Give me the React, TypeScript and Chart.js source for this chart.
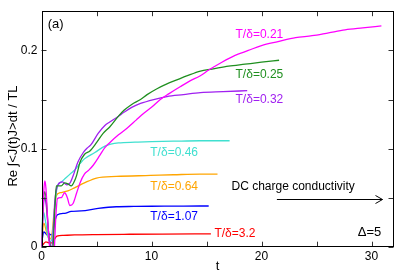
import React, { useEffect, useRef } from "react";
import { Chart, registerables } from "chart.js";

Chart.register(...registerables);

// ---- Data ----
const t021 = [0, 0.1, 0.2, 0.3, 0.4, 0.55, 0.7, 0.85, 1.0, 1.15, 1.3, 1.45, 1.8, 2.1, 2.35, 2.57, 2.87, 3.2, 3.5, 3.9, 4.3, 4.7, 5.3, 5.76, 6.2, 7.0, 7.8, 8.6, 9.3, 10.0, 10.8, 11.6, 12.6, 13.5, 14.4, 15.2, 16.4, 17.6, 18.8, 20, 21.5, 23.1, 24.6, 26.1, 27.6, 29.2, 30.9];
const v021 = [0, 0.025, 0.055, 0.067, 0.06, 0.03, 0.004, -0.01, -0.012, -0.005, 0.03, 0.049, 0.05, 0.055, 0.05, 0.042, 0.044, 0.055, 0.065, 0.074, 0.078, 0.083, 0.093, 0.101, 0.106, 0.114, 0.121, 0.129, 0.136, 0.142, 0.15, 0.156, 0.163, 0.169, 0.174, 0.18, 0.188, 0.195, 0.2, 0.205, 0.209, 0.213, 0.215, 0.218, 0.221, 0.223, 0.225];

const t025 = [0, 0.1, 0.2, 0.3, 0.45, 0.6, 0.75, 0.9, 1.05, 1.2, 1.35, 1.8, 2.1, 2.4, 2.7, 3.0, 3.2, 3.5, 3.9, 4.4, 5.0, 5.6, 6.2, 7.0, 7.5, 8.2, 9.0, 9.6, 10.5, 11.4, 12.3, 13.2, 14.45, 15.5, 17.0, 18.5, 20, 21.6];
const v025 = [0, 0.03, 0.05, 0.056, 0.045, 0.02, 0.003, -0.005, 0.0, 0.035, 0.062, 0.062, 0.065, 0.064, 0.062, 0.067, 0.073, 0.086, 0.094, 0.0976, 0.106, 0.1155, 0.122, 0.133, 0.139, 0.145, 0.15, 0.155, 0.161, 0.166, 0.17, 0.174, 0.179, 0.181, 0.184, 0.186, 0.188, 0.19];

const t032 = [0, 0.1, 0.2, 0.3, 0.45, 0.6, 0.75, 0.9, 1.05, 1.2, 1.5, 1.9, 2.3, 2.6, 2.9, 3.3, 3.8, 4.2, 4.5, 5.15, 5.76, 6.2, 7.0, 7.5, 8.2, 9.0, 10.2, 11.4, 12.9, 14.45, 16.5, 18.7];
const v032 = [0, 0.025, 0.045, 0.05, 0.04, 0.02, 0.005, 0.0, 0.01, 0.045, 0.063, 0.066, 0.063, 0.065, 0.073, 0.086, 0.096, 0.101, 0.104, 0.1155, 0.1236, 0.127, 0.133, 0.137, 0.142, 0.146, 0.15, 0.153, 0.155, 0.157, 0.158, 0.159];

const t046 = [0, 0.1, 0.2, 0.3, 0.45, 0.6, 0.8, 1.0, 1.2, 1.45, 1.8, 2.2, 2.7, 3.0, 3.5, 3.9, 4.85, 5.76, 7.0, 8.5, 10, 12, 14.4, 17.1];
const v046 = [0, 0.03, 0.035, 0.03, 0.02, 0.01, 0.005, 0.012, 0.04, 0.062, 0.066, 0.07, 0.075, 0.078, 0.0846, 0.0895, 0.096, 0.1025, 0.1058, 0.1065, 0.107, 0.1075, 0.108, 0.108];

const t064 = [0, 0.1, 0.2, 0.3, 0.45, 0.6, 0.8, 0.95, 1.1, 1.35, 1.7, 2.4, 3.0, 3.9, 5.0, 6.8, 9.9, 12, 14.4, 16.0];
const v064 = [0, 0.015, 0.024, 0.022, 0.015, 0.01, 0.008, 0.012, 0.03, 0.052, 0.055, 0.057, 0.06, 0.065, 0.07, 0.0716, 0.0726, 0.0733, 0.074, 0.074];

const t107 = [0, 0.1, 0.2, 0.35, 0.5, 0.7, 0.9, 1.05, 1.2, 1.45, 2.1, 2.7, 3.6, 5.15, 6.8, 8.4, 10, 12, 14.4, 15.2];
const v107 = [0, 0.01, 0.015, 0.014, 0.012, 0.013, 0.012, 0.015, 0.025, 0.0326, 0.034, 0.036, 0.0365, 0.039, 0.0407, 0.041, 0.0412, 0.0413, 0.0415, 0.0415];

const t32 = [0, 0.2, 0.4, 0.7, 1.0, 1.2, 1.4, 2, 3, 5, 8, 11, 15.4];
const v32 = [0, 0.003, 0.005, 0.004, 0.004, 0.008, 0.0107, 0.0115, 0.012, 0.0124, 0.0127, 0.0129, 0.013];

const seriesNames = ["T/δ=0.21", "T/δ=0.25", "T/δ=0.32", "T/δ=0.46", "T/δ=0.64", "T/δ=1.07", "T/δ=3.2"];
const seriesColors = ["#ff00ff", "#1f8f1f", "#a020f0", "#40e0d0", "#ffa500", "#0000ff", "#ff0000"];
const seriesT = [t021, t025, t032, t046, t064, t107, t32];
const seriesV = [v021, v025, v032, v046, v064, v107, v32];

// series label positions (data coords: left edge t, centre v)
const labelT = [17.64, 17.64, 17.64, 9.89, 9.89, 9.89, 15.72];
const labelV = [0.2163, 0.1753, 0.150, 0.0963, 0.0612, 0.0302, 0.0134];

// other annotations
const noteTexts = ["DC charge conductivity", "Δ=5", "(a)"];
const noteT = [17.27, 28.75, 0.57];
const noteV = [0.0612, 0.0146, 0.227];
const noteSizes = [12, 13, 13];
const arrowT = [21.4, 31.0];
const arrowV = 0.049;

const xMajor = [0, 10, 20, 30];
const xMinor = [5, 15, 25];
const yMajor = [0, 0.1, 0.2];
const yMinor = [0.05, 0.15];

const FONT = '"Liberation Sans", Arial, Helvetica, sans-serif';

const overlay = {
  id: "overlay",
  afterDatasetsDraw(chart: any) {
    const { ctx, chartArea, scales } = chart;
    const { left, right, top, bottom } = chartArea;
    const x = scales.x;
    const y = scales.y;
    ctx.save();
    // ticks
    ctx.strokeStyle = "#333";
    ctx.lineWidth = 1;
    const tl = 5;
    ctx.beginPath();
    [...xMajor, ...xMinor].forEach((v) => {
      const px = Math.round(x.getPixelForValue(v)) + 0.5;
      ctx.moveTo(px, bottom);
      ctx.lineTo(px, bottom - tl);
      ctx.moveTo(px, top);
      ctx.lineTo(px, top + tl);
    });
    [...yMajor, ...yMinor].forEach((v) => {
      const py = Math.round(y.getPixelForValue(v)) + 0.5;
      ctx.moveTo(left, py);
      ctx.lineTo(left + tl, py);
      ctx.moveTo(right, py);
      ctx.lineTo(right - tl, py);
    });
    ctx.stroke();
    // frame
    ctx.strokeStyle = "#000";
    ctx.strokeRect(Math.round(left) + 0.5, Math.round(top) + 0.5, Math.round(right - left) - 1, Math.round(bottom - top) - 1);

    // labels
    ctx.font = `12px ${FONT}`;
    ctx.textAlign = "left";
    ctx.textBaseline = "middle";
    seriesNames.forEach((n, i) => {
      ctx.fillStyle = seriesColors[i];
      ctx.fillText(n, x.getPixelForValue(labelT[i]), y.getPixelForValue(labelV[i]));
    });
    ctx.fillStyle = "#000";
    noteTexts.forEach((n, i) => {
      ctx.font = `${noteSizes[i]}px ${FONT}`;
      ctx.fillText(n, x.getPixelForValue(noteT[i]), y.getPixelForValue(noteV[i]));
    });
    // arrow
    const ax0 = x.getPixelForValue(arrowT[0]);
    const ax1 = x.getPixelForValue(arrowT[1]);
    const ay = Math.round(y.getPixelForValue(arrowV)) + 0.5;
    ctx.strokeStyle = "#000";
    ctx.beginPath();
    ctx.moveTo(ax0, ay);
    ctx.lineTo(ax1, ay);
    ctx.moveTo(ax1 - 7, ay - 4);
    ctx.lineTo(ax1, ay);
    ctx.lineTo(ax1 - 7, ay + 4);
    ctx.stroke();

    // y title
    ctx.save();
    ctx.translate(13, 136);
    ctx.rotate(-Math.PI / 2);
    ctx.textAlign = "center";
    ctx.font = `13px ${FONT}`;
    ctx.fillText("Re ∫<J(t)J>dt / TL", 0, 0);
    ctx.restore();
    ctx.restore();
  },
};

export default function App() {
  const ref = useRef<HTMLCanvasElement | null>(null);
  useEffect(() => {
    if (!ref.current) return;
    const chart = new Chart(ref.current, {
      type: "line",
      data: {
        datasets: seriesNames.map((n, i) => ({
          label: n,
          data: seriesT[i].map((t, k) => ({ x: t, y: seriesV[i][k] })),
          borderColor: seriesColors[i],
          borderWidth: 1.3,
          pointRadius: 0,
          fill: false,
          cubicInterpolationMode: "monotone" as const,
        })),
      },
      options: {
        animation: false,
        responsive: false,
        devicePixelRatio: 1,
        layout: { padding: { top: 1, right: 1.5, left: 0, bottom: 0 } },
        plugins: { legend: { display: false }, tooltip: { enabled: false } },
        scales: {
          x: {
            type: "linear",
            min: 0,
            max: 32,
            grid: { display: false, drawTicks: false },
            border: { display: false },
            afterBuildTicks: (s: any) => {
              s.ticks = xMajor.map((v) => ({ value: v }));
            },
            afterFit: (s: any) => {
              s.height = 27.3;
            },
            ticks: {
              padding: 3,
              color: "#000",
              font: { family: FONT, size: 12 },
              maxRotation: 0,
              callback: (v: any) => String(v),
            },
            title: {
              display: true,
              text: "t",
              color: "#000",
              font: { family: FONT, size: 13 },
              padding: { top: 0, bottom: 0 },
            },
          },
          y: {
            type: "linear",
            min: 0,
            max: 0.24,
            grid: { display: false, drawTicks: false },
            border: { display: false },
            afterBuildTicks: (s: any) => {
              s.ticks = yMajor.map((v) => ({ value: v }));
            },
            afterFit: (s: any) => {
              s.width = 41.5;
            },
            ticks: {
              padding: 4,
              color: "#000",
              font: { family: FONT, size: 12 },
              callback: (v: any) => String(Math.round(v * 100) / 100),
            },
          },
        },
      },
      plugins: [overlay],
    });
    return () => chart.destroy();
  }, []);
  return (
    <div style={{ position: "fixed", left: 0, top: 0, width: 395, height: 274, background: "#fff" }}>
      <canvas ref={ref} width={395} height={274} style={{ width: 395, height: 274, display: "block" }} />
    </div>
  );
}
